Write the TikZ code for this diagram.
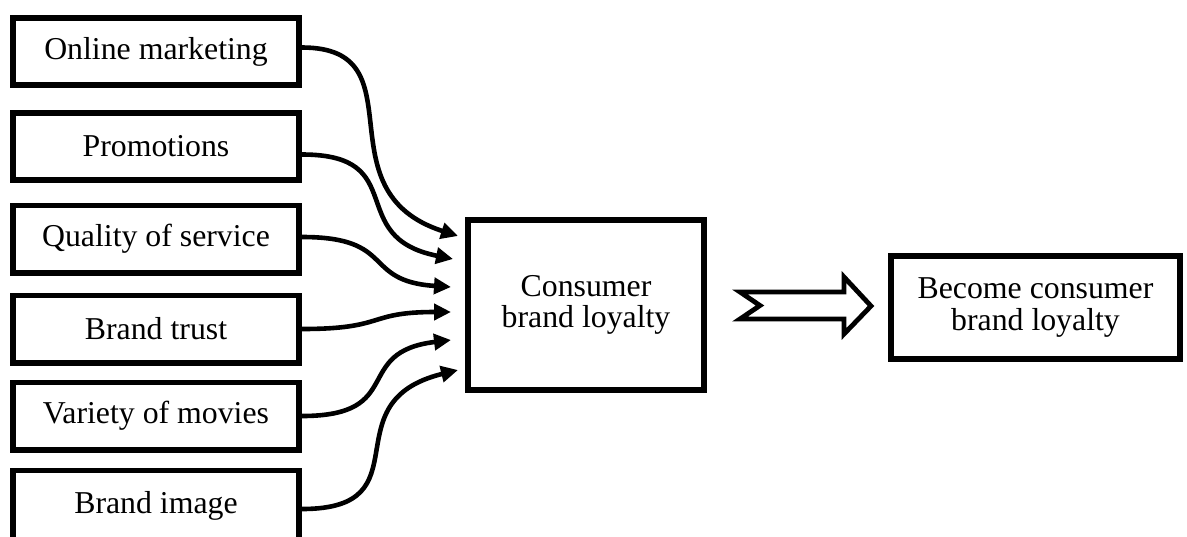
\documentclass[tikz,border=0pt]{standalone}
\usepackage{fontspec}
\setmainfont{Liberation Serif}
\usetikzlibrary{arrows.meta}
\tikzset{
  box/.style={draw=black, line width=2.8pt, fill=white, inner sep=0pt, align=center,
    font=\fontsize{15.9}{15.8}\selectfont},
  leftbox/.style={box, minimum width=143.2pt, minimum height=33.7pt},
  link/.style={line width=2.3pt, -{Triangle[length=8.5pt,width=8pt]}},
  bigarrow/.style={draw=black, line width=2.4pt, fill=white, line join=miter},
}
\begin{document}
\begin{tikzpicture}[x=0.5pt,y=-0.5pt]
\useasboundingbox (0,0) rectangle (1187,536);
\clip (0,0) rectangle (1187,536);
% left boxes
\node[leftbox] (om) at (156,51.5) {Online marketing};
\node[leftbox] (pr) at (156,146.5) {Promotions};
\node[leftbox] (qs) at (156,239) {Quality of service};
\node[leftbox] (bt) at (156,329) {Brand trust};
\node[leftbox] (vm) at (156,416) {Variety of movies};
\node[leftbox, minimum height=35.5pt] (bi) at (156,506) {Brand image};
% centre and right boxes
\node[box, minimum width=118.2pt, minimum height=85.2pt] (cbl) at (586,305) {Consumer\\brand loyalty};
\node[box, minimum width=144.7pt, minimum height=51.7pt] (bcl) at (1035.5,307.5) {Become consumer\\brand loyalty};
% arrow tips
\coordinate (t1) at (458,236);
\coordinate (t2) at (453,259);
\coordinate (t3) at (451,287);
\coordinate (t4) at (451,312);
\coordinate (t5) at (451,340);
\coordinate (t6) at (458,370);
% curved connectors
\draw[link] ([yshift=2pt]om.east) .. controls +(120,0) and +(-140,-45) .. (t1);
\draw[link] ([yshift=-4pt]pr.east) .. controls +(110,0) and +(-110,-22) .. (t2);
\draw[link] ([yshift=1pt]qs.east) .. controls +(95,0) and +(-90,-6) .. (t3);
\draw[link] (bt.east) .. controls +(85,0) and +(-85,0) .. (t4);
\draw[link] (vm.east) .. controls +(105,0) and +(-100,12) .. (t5);
\draw[link] ([yshift=-1.5pt]bi.east) .. controls +(125,0) and +(-130,32) .. (t6);
% hollow arrow between the two boxes
\draw[bigarrow] (cbl.east) ++(33,-13) coordinate (a0)
  -- ++(104,0) -- ++(0,-15) -- ++(27,29) -- ++(-27,28) -- ++(0,-15)
  -- ++(-104,0) -- ++(20,-13.5) -- cycle;
\end{tikzpicture}
\end{document}
